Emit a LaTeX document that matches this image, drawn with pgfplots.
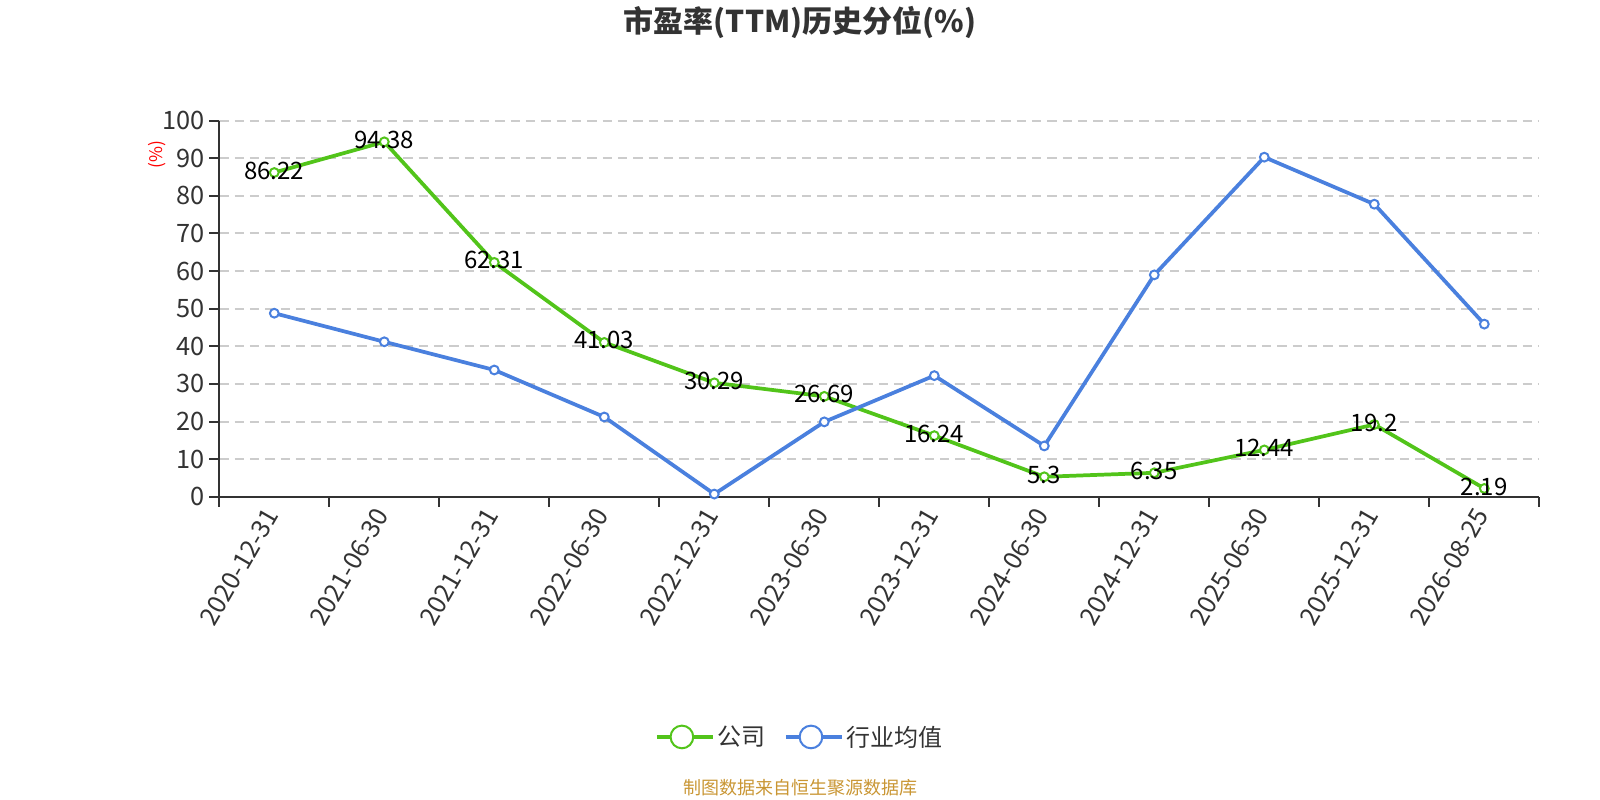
\documentclass[border=0pt]{standalone}
\usepackage{fontspec}
\setmainfont{Noto Sans CJK SC}
\usepackage{pgfplots}
\pgfplotsset{compat=1.18}
\definecolor{cgreen}{HTML}{52C41A}
\definecolor{cblue}{HTML}{4A80DE}
\definecolor{ctext}{HTML}{333333}
\definecolor{cgrid}{HTML}{CCCCCC}
\definecolor{csrc}{HTML}{C99634}
\begin{document}
\begin{tikzpicture}[x=0.75pt,y=0.75pt]
\path[use as bounding box] (0,0) rectangle (1600,800);
\coordinate (axo) at (219.3,303.3);
\node[font=\bfseries\fontsize{22.5}{26}\selectfont, text=ctext] at (800,778) {市盈率(TTM)历史分位(\%)};
\node[font=\fontsize{13.5}{16}\selectfont, text=csrc] at (800,12) {制图数据来自恒生聚源数据库};
\begin{axis}[
  at={(axo)}, anchor=south west,
  scale only axis, width=990pt, height=282pt,
  xmin=-0.5, xmax=11.5, ymin=0, ymax=100,
  clip=false,
  axis lines*=left,
  axis line style={ctext, line width=1.5pt},
  tick align=outside,
  tick style={ctext, line width=1.5pt},
  major tick length=7.5pt, minor tick length=7.5pt,
  xtick={0,...,11},
  xticklabels={2020-12-31,2021-06-30,2021-12-31,2022-06-30,2022-12-31,2023-06-30,2023-12-31,2024-06-30,2024-12-31,2025-06-30,2025-12-31,2026-08-25},
  major x tick style={draw=none},
  minor xtick={-0.5,0.5,...,11.5},
  xticklabel style={rotate=60, anchor=east, font=\fontsize{19}{22}\selectfont, text=ctext},
  ytick={0,10,...,100},
  yticklabel style={font=\fontsize{19}{22}\selectfont, text=ctext},
  /pgf/number format/assume math mode=true,
  ymajorgrids,
  major grid style={cgrid, line width=1.5pt, dash pattern=on 7pt off 4.5pt},
  legend columns=2,
  legend style={at={(0.44,-0.639)}, anchor=center, draw=none, fill=none,
    font=\fontsize{18}{21}\selectfont, text=ctext,
    /tikz/every even column/.append style={column sep=12pt}},
]
\addplot[color=cgreen, line width=2.8pt, mark=*, mark size=3.3pt,
  mark options={fill=white, draw=cgreen, line width=1.5pt},
  legend image code/.code={
    \path (0pt,0pt) -- (42pt,0pt);
    \draw[cgreen, line width=1.5pt] (0pt,0pt) -- (37.5pt,0pt);
    \draw[cgreen, line width=1.5pt, fill=white] (18.75pt,0pt) circle (8.5pt);}]
coordinates {(0,86.22) (1,94.38) (2,62.31) (3,41.03) (4,30.29) (5,26.69) (6,16.24) (7,5.3) (8,6.35) (9,12.44) (10,19.2) (11,2.19)};
\addlegendentry{公司}
\addplot[color=cblue, line width=2.8pt, mark=*, mark size=3.3pt,
  mark options={fill=white, draw=cblue, line width=1.5pt},
  legend image code/.code={
    \path (0pt,0pt) -- (42pt,0pt);
    \draw[cblue, line width=1.5pt] (0pt,0pt) -- (37.5pt,0pt);
    \draw[cblue, line width=1.5pt, fill=white] (18.75pt,0pt) circle (8.5pt);}]
coordinates {(0,48.8) (1,41.2) (2,33.7) (3,21.2) (4,0.7) (5,19.9) (6,32.2) (7,13.5) (8,59.0) (9,90.3) (10,77.8) (11,45.9)};
\addlegendentry{行业均值}
\addplot[draw=none, mark=none, forget plot, point meta=explicit symbolic,
  nodes near coords,
  every node near coord/.append style={anchor=center, font=\fontsize{18}{21}\selectfont, text=black, yshift=1.5pt}]
coordinates {(0,86.22) [86.22] (1,94.38) [94.38] (2,62.31) [62.31] (3,41.03) [41.03] (4,30.29) [30.29] (5,26.69) [26.69] (6,16.24) [16.24] (7,5.3) [5.3] (8,6.35) [6.35] (9,12.44) [12.44] (10,19.2) [19.2] (11,2.19) [2.19]};
\node[rotate=90, text=red, font=\fontsize{13}{15}\selectfont] at (rel axis cs:-0.047,0.909) {(\%)};
\end{axis}
\end{tikzpicture}
\end{document}
